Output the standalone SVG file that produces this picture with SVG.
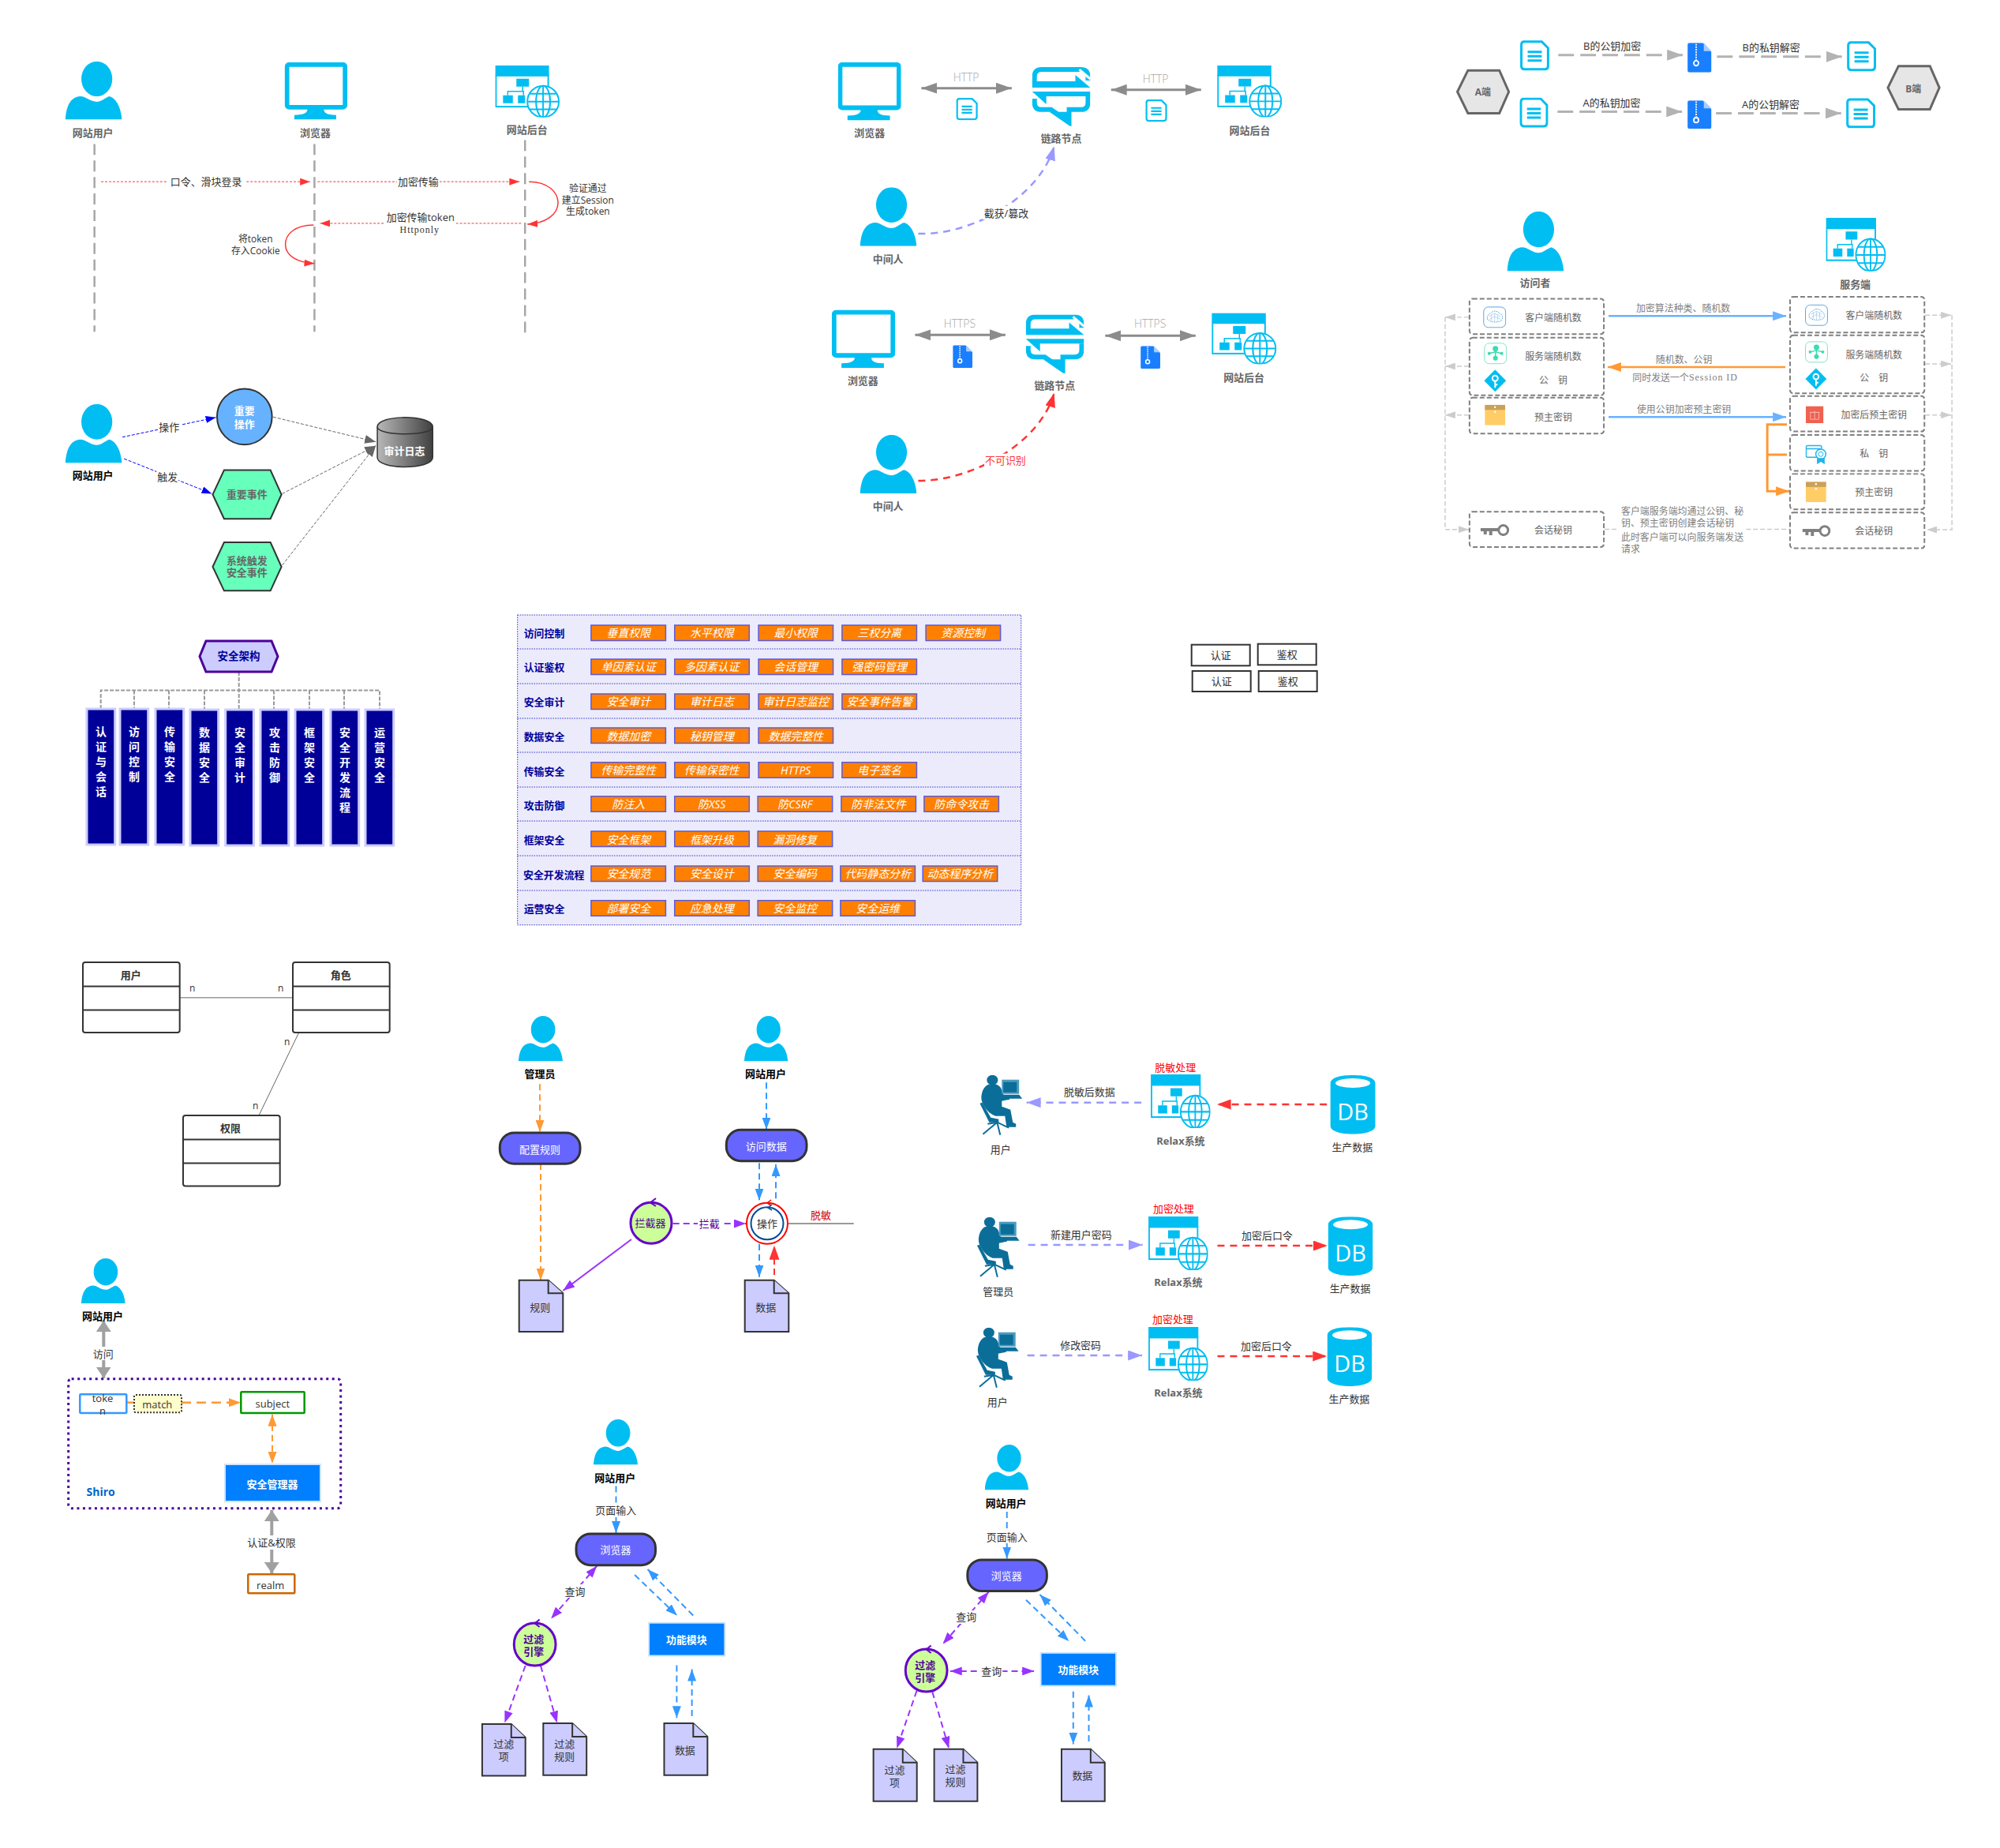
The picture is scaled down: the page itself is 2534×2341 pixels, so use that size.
<svg xmlns="http://www.w3.org/2000/svg" width="2534" height="2341" viewBox="0 0 2534 2341">
<style>
text{font-family:"Open Sans","Noto Sans CJK SC",sans-serif;text-anchor:middle;dominant-baseline:central;font-size:13px;fill:#333}
.b{font-weight:700;fill:#666}
.k{font-weight:700;fill:#000}
.s12{font-size:12px}
.g{font-size:12px;fill:#808080}
.h{font-size:14px;font-weight:300;fill:#a6a6a6}
.w{fill:#fff}
.wb{fill:#fff;font-weight:700}
.red{fill:#f00}
.serif{font-family:"Liberation Serif",serif;letter-spacing:1px}
.bar{font-weight:700;font-size:14px;fill:#fff}
.row{font-weight:700;fill:#009}
.it{font-style:italic;fill:#fff;font-size:14px}
.item{fill:#ff8000;stroke:#5a5ae0;stroke-width:1.5}
.tb{fill:none;stroke:#333;stroke-width:2}
.uml{fill:#fff;stroke:#333;stroke-width:2}
.dbox{fill:#fff;stroke:#808080;stroke-width:2;stroke-dasharray:6 3}
.pill{fill:#66f;stroke:#333;stroke-width:3}
.doc{fill:#ccf;stroke:#333;stroke-width:2}
.fn{fill:#007fff;stroke:#cce5ff;stroke-width:2}
.life{stroke:#a6a6a6;stroke-width:2.5;stroke-dasharray:14 7}
.rd{stroke:#f33;stroke-width:1;stroke-dasharray:3 2;marker-end:url(#mRed)}
.rc{stroke:#f33;stroke-width:1.5;marker-end:url(#mRed)}
.bl0{stroke:#00f;stroke-width:1;stroke-dasharray:4 2;marker-end:url(#mB0)}
.gd{stroke:#666;stroke-width:1;stroke-dasharray:4 2;marker-end:url(#mG6)}
.g2{stroke:#8c8c8c;stroke-width:3;marker-start:url(#mG8);marker-end:url(#mG8)}
.pur{stroke:#99f;stroke-width:2.5;stroke-dasharray:9 7;marker-end:url(#mPu)}
.red2{stroke:#f33;stroke-width:2.5;stroke-dasharray:9 7;marker-end:url(#mR2)}
.gb{stroke:#b3b3b3;stroke-width:3;stroke-dasharray:20 8;marker-end:url(#mGb)}
.blue{stroke:#6ab2ff;stroke-width:2.5;marker-end:url(#mBl)}
.org{stroke:#f93;stroke-width:2.5;marker-end:url(#mOr)}
.lg{stroke:#ccc;stroke-width:1.5;stroke-dasharray:6 3;fill:none}
.lga{stroke:#ccc;stroke-width:1.5;stroke-dasharray:6 3;fill:none;marker-end:url(#mLg)}
.bd{stroke:#39f;stroke-width:2;stroke-dasharray:8 5;marker-end:url(#mB2)}
.od{stroke:#f93;stroke-width:2;stroke-dasharray:8 5;marker-end:url(#mO2)}
.vd{stroke:#93f;stroke-width:2;stroke-dasharray:8 5;marker-end:url(#mV)}
.vdd{stroke:#93f;stroke-width:2;stroke-dasharray:8 5;marker-start:url(#mV);marker-end:url(#mV)}
.ga{stroke:#a0a0a0;stroke-width:4;marker-start:url(#mGa);marker-end:url(#mGa)}
.tree{stroke:#999;stroke-width:2;stroke-dasharray:5 2;fill:none}
</style>
<defs>
<marker id="mRed" viewBox="0 0 10 10" refX="10" refY="5" markerUnits="userSpaceOnUse" markerWidth="13" markerHeight="9" orient="auto-start-reverse" preserveAspectRatio="none"><path d="M0 0L10 5L0 10Z" fill="#f33"/></marker>
<marker id="mB0" viewBox="0 0 10 10" refX="10" refY="5" markerUnits="userSpaceOnUse" markerWidth="13" markerHeight="9" orient="auto-start-reverse" preserveAspectRatio="none"><path d="M0 0L10 5L0 10Z" fill="#00f"/></marker>
<marker id="mG6" viewBox="0 0 10 10" refX="10" refY="5" markerUnits="userSpaceOnUse" markerWidth="14" markerHeight="11" orient="auto-start-reverse" preserveAspectRatio="none"><path d="M0 0L10 5L0 10Z" fill="#666"/></marker>
<marker id="mG8" viewBox="0 0 10 10" refX="10" refY="5" markerUnits="userSpaceOnUse" markerWidth="20" markerHeight="14" orient="auto-start-reverse" preserveAspectRatio="none"><path d="M0 0L10 5L0 10Z" fill="#8c8c8c"/></marker>
<marker id="mPu" viewBox="0 0 10 10" refX="10" refY="5" markerUnits="userSpaceOnUse" markerWidth="18" markerHeight="13" orient="auto-start-reverse" preserveAspectRatio="none"><path d="M0 0L10 5L0 10Z" fill="#99f"/></marker>
<marker id="mR2" viewBox="0 0 10 10" refX="10" refY="5" markerUnits="userSpaceOnUse" markerWidth="18" markerHeight="13" orient="auto-start-reverse" preserveAspectRatio="none"><path d="M0 0L10 5L0 10Z" fill="#f33"/></marker>
<marker id="mGb" viewBox="0 0 10 10" refX="10" refY="5" markerUnits="userSpaceOnUse" markerWidth="20" markerHeight="14" orient="auto-start-reverse" preserveAspectRatio="none"><path d="M0 0L10 5L0 10Z" fill="#b3b3b3"/></marker>
<marker id="mBl" viewBox="0 0 10 10" refX="10" refY="5" markerUnits="userSpaceOnUse" markerWidth="17" markerHeight="12" orient="auto-start-reverse" preserveAspectRatio="none"><path d="M0 0L10 5L0 10Z" fill="#6ab2ff"/></marker>
<marker id="mOr" viewBox="0 0 10 10" refX="10" refY="5" markerUnits="userSpaceOnUse" markerWidth="17" markerHeight="12" orient="auto-start-reverse" preserveAspectRatio="none"><path d="M0 0L10 5L0 10Z" fill="#f93"/></marker>
<marker id="mLg" viewBox="0 0 10 10" refX="10" refY="5" markerUnits="userSpaceOnUse" markerWidth="13" markerHeight="9" orient="auto-start-reverse" preserveAspectRatio="none"><path d="M0 0L10 5L0 10Z" fill="#ccc"/></marker>
<marker id="mB2" viewBox="0 0 10 10" refX="10" refY="5" markerUnits="userSpaceOnUse" markerWidth="15" markerHeight="11" orient="auto-start-reverse" preserveAspectRatio="none"><path d="M0 0L10 5L0 10Z" fill="#39f"/></marker>
<marker id="mO2" viewBox="0 0 10 10" refX="10" refY="5" markerUnits="userSpaceOnUse" markerWidth="15" markerHeight="11" orient="auto-start-reverse" preserveAspectRatio="none"><path d="M0 0L10 5L0 10Z" fill="#f93"/></marker>
<marker id="mV" viewBox="0 0 10 10" refX="10" refY="5" markerUnits="userSpaceOnUse" markerWidth="15" markerHeight="11" orient="auto-start-reverse" preserveAspectRatio="none"><path d="M0 0L10 5L0 10Z" fill="#93f"/></marker>
<marker id="mGa" viewBox="0 0 10 10" refX="10" refY="5" markerUnits="userSpaceOnUse" markerWidth="14" markerHeight="19" orient="auto-start-reverse" preserveAspectRatio="none"><path d="M0 0L10 5L0 10Z" fill="#a0a0a0"/></marker>
<linearGradient id="cyl" x1="0" x2="1" y1="0" y2="0"><stop offset="0" stop-color="#b8b8b8"/><stop offset="1" stop-color="#404040"/></linearGradient>
<symbol id="person" viewBox="0 0 72 75" preserveAspectRatio="none"><ellipse cx="40" cy="22.500" rx="19.700" ry="22.500" fill="#00bef2"/><path d="M0 75C1 60 5 46 19 45C26 45 32 52 40 52C46 52 50 47 56 45C66 48 71 62 72 75Z" fill="#00bef2"/></symbol>
<symbol id="monitor" viewBox="0 0 80 74"><rect x="2.500" y="3" width="75" height="55" rx="3" fill="#fff" stroke="#00bef2" stroke-width="6"/><path d="M29 60H50C50 65 53 68 66 68V74H12V68C25 68 29 65 29 60Z" fill="#00bef2"/></symbol>
<symbol id="website" viewBox="0 0 82 66" preserveAspectRatio="none"><rect x="0" y="0" width="68.500" height="13" fill="#00bef2"/><rect x="1" y="13" width="66.500" height="39.500" fill="#fff" stroke="#00bef2" stroke-width="2"/><path d="M27 17H43V27H27ZM10 38H22.500V48H10ZM29 38H38V48H29Z" fill="#00bef2"/><path d="M35 27V33M16 38V33H36V38" fill="none" stroke="#00bef2" stroke-width="1.500"/><circle cx="61" cy="46" r="20" fill="#fff" stroke="#00bef2" stroke-width="2"/><ellipse cx="61" cy="46" rx="9" ry="20" fill="none" stroke="#00bef2" stroke-width="2"/><path d="M41 46H81M44 36H78M44 56H78M61 26V66" fill="none" stroke="#00bef2" stroke-width="2"/></symbol>
<symbol id="link" viewBox="0 0 74 75"><path d="M3 24V12Q3 3 12 3H62Q71 3 71 12V17" fill="none" stroke="#00bef2" stroke-width="6"/><path d="M0 18H55V10L74 26H0Z" fill="#00bef2"/><path d="M0 31L74 31V37H18V47Z" fill="#00bef2"/><path d="M71 37V45Q71 54 62 54H47V70L24 54H12Q3 54 3 45V40" fill="none" stroke="#00bef2" stroke-width="6"/><path d="M22 57L48 75V57Z" fill="#00bef2"/><path d="M60 3L74 15" stroke="#fff" stroke-width="3"/></symbol>
<symbol id="docic" viewBox="0 0 38 39" preserveAspectRatio="none"><path d="M4 2H28L36 10V33Q36 37 32 37H6Q2 37 2 33V6Q2 2 6 2Z" fill="#fff" stroke="#00bef2" stroke-width="3"/><path d="M10 15H28M10 20.500H28M10 26H28" stroke="#00bef2" stroke-width="3"/></symbol>
<symbol id="zip" viewBox="0 0 25 29" preserveAspectRatio="none"><path d="M2 0H16L25 9V27Q25 29 23 29H2Q0 29 0 27V2Q0 0 2 0Z" fill="#1a7fff"/><path d="M17 0L25 8H17Z" fill="#a6cdff"/><path d="M9 1V17" stroke="#fff" stroke-width="1.500" stroke-dasharray="1.500 1"/><circle cx="9" cy="20" r="2.500" fill="none" stroke="#fff" stroke-width="1.500"/></symbol>
<symbol id="db" viewBox="0 0 57 75" preserveAspectRatio="none"><path d="M0 11C0 3 12 0 28.500 0C45 0 57 3 57 11V64C57 71 45 75 28.500 75C12 75 0 71 0 64Z" fill="#00bef2"/><ellipse cx="28.500" cy="10" rx="22" ry="6" fill="#fff"/></symbol>
<symbol id="worker" viewBox="0 0 54 77"><ellipse cx="16" cy="6.500" rx="7" ry="6.500" fill="#0b6e99"/><path d="M9 13C15 10 24 11 27 17L30 25L38 27L38 31L28 33L28 40L39 44L42 60L46 62V66L34 66L32 52L20 52C12 50 1 38 2 27C3 20 5 16 9 13Z" fill="#0b6e99"/><path d="M0 36L3 35L14 54L24 56V60L12 60Z" fill="#0b6e99"/><path d="M22 60L4 75M22 60L26 76M22 60L37 67M22 60L10 62" stroke="#0b6e99" stroke-width="2" fill="none"/><rect x="28" y="6" width="22" height="18" fill="#4a9bc0"/><rect x="30" y="9" width="17" height="13" fill="#0b6e99"/><path d="M22 25H50L54 30H26Z" fill="#0b6e99"/></symbol>
<symbol id="brain" viewBox="0 0 30 28"><rect x="1" y="1" width="28" height="26" rx="6" fill="#fff" stroke="#5aa5e0"/><path d="M6 17C4 12 9 9 11 8C14 5 19 6 21 9C25 10 26 15 24 18C20 21 10 21 6 17Z" fill="none" stroke="#5aa5e0" stroke-dasharray="1.500 1"/><path d="M8 13L15 9L22 13M8 17L15 13L23 17M15 9V20M11 10V19M19 10V19" fill="none" stroke="#8cc3ea" stroke-width=".6"/></symbol>
<symbol id="tree" viewBox="0 0 30 28"><rect x="1" y="1" width="28" height="26" rx="6" fill="#fff" stroke="#7fe5c5"/><path d="M15 8V20M15 12L7 14M15 12L23 14" stroke="#3ddbb0" stroke-width="1.500"/><circle cx="15" cy="8" r="3.500" fill="#3ddbb0"/><circle cx="7" cy="14" r="2" fill="#3ddbb0"/><circle cx="23" cy="14" r="2" fill="#3ddbb0"/><circle cx="15" cy="20" r="3" fill="#3ddbb0"/></symbol>
<symbol id="diamond" viewBox="0 0 28 28"><path d="M14 0L28 14L14 28L0 14Z" fill="#00bef2"/><circle cx="14" cy="11" r="3.500" fill="none" stroke="#fff" stroke-width="2"/><path d="M14 14V23M14 19H17" stroke="#fff" stroke-width="2"/></symbol>
<symbol id="parcel" viewBox="0 0 26 26"><rect width="26" height="26" fill="#ffcc66"/><rect width="26" height="6.500" fill="#c9a15a"/><circle cx="13" cy="3" r="1.200" fill="#fff"/><circle cx="13" cy="9" r="1.200" fill="#fff"/></symbol>
<symbol id="gift" viewBox="0 0 23 22"><rect width="23" height="22" fill="#f0614f"/><path d="M6 8H17V17H6ZM11.500 6V17M5 8H18" fill="none" stroke="#f9b3aa"/></symbol>
<symbol id="cert" viewBox="0 0 28 26"><path d="M15 17H3Q1 17 1 15V4Q1 2 3 2H19Q21 2 21 4V6" fill="none" stroke="#1fb4ec" stroke-width="1.500"/><path d="M1 6H20" stroke="#1fb4ec" stroke-width="1.500"/><circle cx="20" cy="13" r="6.500" fill="#fff" stroke="#1fb4ec" stroke-width="1.500"/><circle cx="20" cy="13" r="3" fill="none" stroke="#1fb4ec"/><path d="M15 18L15 26L20 23L25 26V18" fill="#1fb4ec"/></symbol>
<symbol id="keyg" viewBox="0 0 37 15"><circle cx="29" cy="7.500" r="6" fill="#fff" stroke="#808080" stroke-width="3"/><path d="M0 5H23V9H15V14H11V9H8V13H4V9H0Z" fill="#808080"/></symbol>
</defs>
<rect width="2534" height="2341" fill="#fff"/>

<g id="connectors" fill="none">
<g id="c-left" transform="translate(.225 .225) scale(.9955)">
<path class="life" d="M120 183V422M400 183V422M668 178V424"/>
<path class="rd" d="M128.500 231H394.600"/><path class="rd" d="M404 231H661"/><path class="rd" d="M663 284H407"/>
<path class="rc" d="M673 231C698 231 710 245 710 258C710 272 695 284 671 285"/>
<path class="rc" d="M399 286C375 286 363 298 363 311C363 325 378 334 400 335"/>
<path class="bl0" d="M155.600 556L274.600 531"/><path class="bl0" d="M157.700 583.500L269.500 628"/>
<path class="gd" d="M347.400 530.400L478 562"/><path class="gd" d="M359 628L478 567"/><path class="gd" d="M359 719L478 567"/>
</g>
<g id="c-mid" transform="translate(4.635 .225) scale(.9955)">
<path class="g2" d="M1168 112H1283"/><path class="g2" d="M1409.500 114H1524"/><path class="g2" d="M1160 426H1275"/><path class="g2" d="M1402 427H1517"/>
<path class="pur" d="M1164 297C1230 300 1318 252 1337 186"/>
<path class="red2" d="M1164 611.600C1230 612 1318 566 1337 500"/>
</g>
<g id="c-right" transform="translate(8.235 .09) scale(.9955)">
<path class="gb" d="M1975 70H2133.400"/><path class="gb" d="M2177 72H2336"/><path class="gb" d="M1974 142H2132.500"/><path class="gb" d="M2175.700 144H2335"/>
<path class="blue" d="M2039 402H2265"/><path class="org" d="M2264 467H2038"/><path class="blue" d="M2039 530.500H2265"/>
<path d="M2266 540H2241V625H2269" stroke="#f93" stroke-width="3" marker-end="url(#mOr)"/><path d="M2241 578.500H2266" stroke="#f93" stroke-width="3"/>
<path class="lga" d="M1861 403.600H1831"/><path class="lga" d="M1861 466H1831"/><path class="lga" d="M1861 528H1831"/>
<path class="lga" d="M1831 403.600V673.600H1861"/>
<path class="lga" d="M2442 401H2475"/><path class="lga" d="M2442 463H2475"/><path class="lga" d="M2442 528H2475"/>
<path class="lga" d="M2476 401V674H2444"/>
<path class="lg" d="M2034 673.500H2270"/>
</g>
<g id="c-arch">
<path class="tree" d="M302.700 851V898M127.700 898V874.400H481V898M170 874.400V898M214 874.400V898M259 874.400V898M347 874.400V898M392 874.400V898M436 874.400V898"/>
</g>
<g id="c-uml" transform="translate(0 -2)">
<path d="M227.700 1265.800H371" stroke="#999" stroke-width="1.500"/><path d="M378.700 1310L328 1415" stroke="#666" stroke-width="1"/>
</g>
<g id="c-flow">
<path class="od" d="M684 1373.300V1434"/><path class="od" d="M685 1474V1621.700"/>
<path class="bd" d="M971 1371.300V1430.700"/><path class="bd" d="M962 1473.300V1520.700"/><path class="bd" d="M983 1518.300V1475"/><path class="bd" d="M962 1576V1617.700"/>
<path d="M981 1615V1577.700" stroke="#f33" stroke-width="2" stroke-dasharray="8 5" marker-end="url(#mR2)"/>
<path class="vd" d="M852.700 1550H945"/><path d="M800 1570L713.300 1635" stroke="#93f" stroke-width="2" marker-end="url(#mV)"/>
<path d="M996.700 1550H1081.700" stroke="#999" stroke-width="2"/>
</g>
<g id="c-mask" transform="translate(4.880 0) scale(.996 1)">
<path class="pur" d="M1447 1396.700H1301"/><path class="red2" d="M1683 1399H1543"/>
<path class="pur" d="M1303 1577H1448.600"/><path class="red2" d="M1543.800 1578H1683.700"/>
<path class="pur" d="M1302 1717H1448"/><path class="red2" d="M1543.800 1718H1683"/>
</g>
<g id="c-shiro">
<path class="ga" d="M131.300 1673V1745.700"/><path class="ga" d="M344.300 1913V1993"/>
<path d="M160 1776.700H170" stroke="#f93" stroke-width="2.500"/><path d="M230 1776.700H305" stroke="#f93" stroke-width="2.500" stroke-dasharray="12 7" marker-end="url(#mO2)"/>
<path class="od" d="M345 1791.700V1854" marker-start="url(#mO2)"/>
</g>
<g id="c-filter" transform="translate(2.360 0) scale(.996 1)">
<path class="bd" d="M781.300 1882.400V1942"/>
<path class="vdd" d="M757 1983.700L698.600 2050.600"/>
<path class="bd" d="M805 1995L859 2046.500"/><path class="bd" d="M879.400 2046.500L821.500 1988"/>
<path class="bd" d="M858.500 2109.400V2176.300"/><path class="bd" d="M877.800 2174V2114.500"/>
<path class="vd" d="M666 2110L639.600 2182.500"/><path class="vd" d="M685.400 2110L706.300 2182.500"/>
<path class="bd" d="M1278.500 1915V1974.500"/>
<path class="vdd" d="M1255.400 2016.600L1197 2082.600"/>
<path class="vdd" d="M1206.300 2116.900H1313"/>
<path class="bd" d="M1302.800 2026.800L1357.400 2079"/><path class="bd" d="M1378.300 2078.800L1320.400 2020"/>
<path class="bd" d="M1362.900 2142.700V2209.600"/><path class="bd" d="M1382.700 2206V2147.500"/>
<path class="vd" d="M1163.900 2141.700L1138.500 2214.700"/><path class="vd" d="M1183.700 2143.400L1204.700 2214.700"/>
</g>
</g>

<g id="s-left" transform="translate(.225 .225) scale(.9955)">
<g id="seq-labels">
<rect x="212" y="224" width="100" height="14" fill="#fff"/><text x="262" y="231">口令、滑块登录</text>
<rect x="505" y="224" width="54" height="14" fill="#fff"/><text x="532" y="231">加密传输</text>
<rect x="490" y="270" width="90" height="30" fill="#fff"/><text x="535" y="275.700">加密传输token</text><text x="534" y="292" class="s12 serif">Httponly</text>
<text x="748" y="239" class="s12">验证通过</text><text x="748" y="253.500" class="s12">建立Session</text><text x="748" y="268" class="s12">生成token</text>
<text x="325" y="303" class="s12">将token</text><text x="325" y="318" class="s12">存入Cookie</text>
<rect x="202" y="536" width="28" height="14" fill="#fff"/><text x="215" y="543">操作</text>
<rect x="199" y="599" width="28" height="14" fill="#fff"/><text x="213" y="606.500">触发</text>
</g>
<g id="n-user1"><use href="#person" x="83" y="78" width="72" height="74"/><text x="118" y="169" class="b">网站用户</text></g>
<g id="n-browser1"><use href="#monitor" x="362" y="79" width="80" height="73"/><text x="401" y="169" class="b">浏览器</text></g>
<g id="n-site1"><use href="#website" x="630" y="83" width="82" height="66"/><text x="670.500" y="165" class="b">网站后台</text></g>
<g id="n-user2"><use href="#person" x="83" y="514" width="72" height="75"/><text x="118" y="605" class="k">网站用户</text></g>
<g id="n-op"><ellipse cx="311" cy="530" rx="35" ry="35.500" fill="#66b2ff" stroke="#333" stroke-width="2"/><text x="311" y="522.500" class="wb">重要</text><text x="311" y="539" class="wb">操作</text></g>
<g id="n-ev1"><path d="M270.500 629L285 598H344L358 629L344 660H285Z" fill="#6fb" stroke="#333" stroke-width="2"/><text x="314" y="629" class="b">重要事件</text></g>
<g id="n-ev2"><path d="M270.500 721L285 690H344L358 721L344 751.500H285Z" fill="#6fb" stroke="#333" stroke-width="2"/><text x="314" y="713" class="b">系统触发</text><text x="314" y="728.500" class="b">安全事件</text></g>
<g id="n-log"><path d="M480 543C480 527 550.500 527 550.500 543V582C550.500 598 480 598 480 582Z" fill="url(#cyl)" stroke="#333" stroke-width="1.500"/><path d="M480 543C480 555 550.500 555 550.500 543" fill="none" stroke="#333" stroke-width="1.500"/><text x="514.600" y="573" class="wb">审计日志</text></g>
</g>

<g id="s-mid" transform="translate(4.635 .225) scale(.9955)">
<g id="n-http">
<use href="#monitor" x="1062" y="79" width="80" height="74"/><text x="1102" y="169" class="b">浏览器</text>
<use href="#link" x="1309" y="85" width="74" height="75.500"/><text x="1346" y="176" class="b">链路节点</text>
<use href="#website" x="1544.500" y="83" width="82.500" height="65.600"/><text x="1586" y="165.600" class="b">网站后台</text>
<text x="1225" y="97.700" class="h">HTTP</text><use href="#docic" x="1212" y="124" width="28" height="29"/>
<text x="1466" y="99.700" class="h">HTTP</text><use href="#docic" x="1453" y="126" width="28" height="29"/>
<use href="#person" x="1090" y="238" width="72" height="75"/><text x="1125.600" y="329" class="b">中间人</text>
<rect x="1246" y="262" width="60" height="17" fill="#fff"/><text x="1276" y="270.600">截获/篡改</text>
</g>
<g id="n-https">
<use href="#monitor" x="1054" y="394" width="80.600" height="74"/><text x="1093.600" y="484" class="b">浏览器</text>
<use href="#link" x="1301" y="400" width="74" height="75"/><text x="1337.700" y="490" class="b">链路节点</text>
<use href="#website" x="1537.500" y="398" width="82.500" height="65"/><text x="1578.500" y="480" class="b">网站后台</text>
<text x="1216.700" y="411" class="h">HTTPS</text><use href="#zip" x="1208" y="439" width="25" height="29"/>
<text x="1459" y="411" class="h">HTTPS</text><use href="#zip" x="1447" y="440" width="25" height="29"/>
<use href="#person" x="1090" y="553" width="72" height="74.500"/><text x="1125.600" y="644" class="b">中间人</text>
<rect x="1248" y="577" width="54" height="16" fill="#fff"/><text x="1275" y="585" style="fill:#f33">不可识别</text>
</g>
</g>

<g id="s-right" transform="translate(8.235 .09) scale(.9955)">
<g id="n-crypto">
<path d="M1846.600 116.700L1860 89.500H1900L1912 116.700L1900 144H1860Z" fill="#e6e6e6" stroke="#666" stroke-width="3"/><text x="1879" y="116.500" class="b s12">A端</text>
<path d="M2394.500 111.500L2408 84H2448L2460 111.500L2448 139H2408Z" fill="#e6e6e6" stroke="#666" stroke-width="3"/><text x="2427" y="112" class="b s12">B端</text>
<use href="#docic" x="1926" y="51" width="38" height="39"/><use href="#docic" x="1925.500" y="123.600" width="37" height="39"/><use href="#docic" x="2342" y="52" width="38" height="39"/><use href="#docic" x="2341" y="124.500" width="38" height="39"/>
<use href="#zip" x="2139.500" y="54.500" width="30.500" height="37.500"/><use href="#zip" x="2139.500" y="127.700" width="30.500" height="36.300"/>
<rect x="2005" y="50" width="78" height="17" fill="#fff"/><text x="2043.600" y="58.600">B的公钥加密</text>
<rect x="2208" y="52" width="78" height="17" fill="#fff"/><text x="2246" y="60.400">B的私钥解密</text>
<rect x="2005" y="122" width="78" height="17" fill="#fff"/><text x="2043" y="131">A的私钥加密</text>
<rect x="2207" y="124" width="78" height="17" fill="#fff"/><text x="2245.400" y="133">A的公钥解密</text>
</g>
<g id="n-tls-client">
<use href="#person" x="1910" y="269" width="72" height="76"/><text x="1945.500" y="360" class="b">访问者</text>
<rect class="dbox" x="1862" y="380" width="171" height="45" rx="4"/><rect class="dbox" x="1862" y="429.600" width="171" height="73.400" rx="4"/><rect class="dbox" x="1862" y="506" width="171" height="45.600" rx="4"/><rect class="dbox" x="1862" y="651" width="171" height="45" rx="4"/>
<use href="#brain" x="1879" y="389.600" width="30" height="28"/><use href="#tree" x="1880" y="435.400" width="30" height="28.600"/><use href="#diamond" x="1880.600" y="470.400" width="28" height="28"/><use href="#parcel" x="1881.400" y="515" width="26.200" height="26"/><use href="#keyg" x="1876" y="667" width="37" height="15"/>
<text x="1968.600" y="403.600" class="s12" style="fill:#666">客户端随机数</text><text x="1968.600" y="453" class="s12" style="fill:#666">服务端随机数</text><text x="1968.600" y="483" class="s12" style="fill:#666">公　钥</text><text x="1968.600" y="530" class="s12" style="fill:#666">预主密钥</text><text x="1968.600" y="673.600" class="s12" style="fill:#666">会话秘钥</text>
</g>
<g id="n-tls-server">
<use href="#website" x="2315.600" y="277" width="76.400" height="68"/><text x="2353" y="362" class="b">服务端</text>
<rect class="dbox" x="2270" y="377.500" width="171" height="45.500" rx="4"/><rect class="dbox" x="2270" y="426.500" width="171" height="74" rx="4"/><rect class="dbox" x="2270" y="504" width="171" height="45" rx="4"/><rect class="dbox" x="2270" y="553.500" width="171" height="45.500" rx="4"/><rect class="dbox" x="2270" y="603" width="171" height="45" rx="4"/><rect class="dbox" x="2270" y="652" width="171" height="45.500" rx="4"/>
<use href="#brain" x="2288.600" y="387" width="30" height="28"/><use href="#tree" x="2288.600" y="433.600" width="30" height="28.400"/><use href="#diamond" x="2289" y="468.600" width="28" height="27"/><use href="#gift" x="2290" y="516.600" width="22.600" height="22"/><use href="#cert" x="2289.500" y="565" width="27.500" height="25.600"/><use href="#parcel" x="2290" y="613" width="26" height="26"/><use href="#keyg" x="2285.600" y="668" width="36.400" height="15"/>
<text x="2376.700" y="401" class="s12" style="fill:#666">客户端随机数</text><text x="2376.700" y="451" class="s12" style="fill:#666">服务端随机数</text><text x="2376.700" y="480" class="s12" style="fill:#666">公　钥</text><text x="2376.700" y="527" class="s12" style="fill:#666">加密后预主密钥</text><text x="2376.700" y="577" class="s12" style="fill:#666">私　钥</text><text x="2376.700" y="626" class="s12" style="fill:#666">预主密钥</text><text x="2376.700" y="675" class="s12" style="fill:#666">会话秘钥</text>
</g>
<g id="tls-labels">
<text x="2134" y="391.500" class="g">加密算法种类、随机数</text><text x="2135" y="456.500" class="g">随机数、公钥</text><text x="2136.500" y="480" class="g">同时发送一个<tspan class="serif">Session ID</tspan></text><text x="2135" y="520" class="g">使用公钥加密预主密钥</text>
<rect x="2052" y="642" width="162" height="64" fill="#fff"/>
<text x="2055" y="650" class="g" style="text-anchor:start">客户端服务端均通过公钥、秘</text><text x="2055" y="665" class="g" style="text-anchor:start">钥、预主密钥创建会话秘钥</text><text x="2055" y="683" class="g" style="text-anchor:start">此时客户端可以向服务端发送</text><text x="2055" y="698" class="g" style="text-anchor:start">请求</text>
</g>
</g>

<g id="n-arch">
<path d="M253 831.500L261 812H344L352 831.500L344 851H261Z" fill="#ccf" stroke="#4c0099" stroke-width="3"/><text x="302.500" y="831" style="font-weight:700;fill:#009;font-size:13.500px">安全架构</text>
</g>
<g id="n-bars">
<g fill="#009" stroke="#ccf" stroke-width="3"><rect x="110" y="898" width="35.700" height="172"/><rect x="152" y="898" width="35.700" height="172"/><rect x="197" y="898" width="35.700" height="172"/><rect x="241" y="899" width="35.700" height="172"/><rect x="285.700" y="899" width="35.700" height="172"/><rect x="330" y="899" width="35.700" height="172"/><rect x="374" y="899" width="35.700" height="172"/><rect x="419" y="899" width="35.700" height="172"/><rect x="463" y="899" width="35.700" height="172"/></g>
<text class="bar" x="128" y="926">认<tspan x="128" dy="19">证</tspan><tspan x="128" dy="19">与</tspan><tspan x="128" dy="19">会</tspan><tspan x="128" dy="19">话</tspan></text>
<text class="bar" x="170" y="926">访<tspan x="170" dy="19">问</tspan><tspan x="170" dy="19">控</tspan><tspan x="170" dy="19">制</tspan></text>
<text class="bar" x="215" y="926">传<tspan x="215" dy="19">输</tspan><tspan x="215" dy="19">安</tspan><tspan x="215" dy="19">全</tspan></text>
<text class="bar" x="259" y="927">数<tspan x="259" dy="19">据</tspan><tspan x="259" dy="19">安</tspan><tspan x="259" dy="19">全</tspan></text>
<text class="bar" x="304" y="927">安<tspan x="304" dy="19">全</tspan><tspan x="304" dy="19">审</tspan><tspan x="304" dy="19">计</tspan></text>
<text class="bar" x="348" y="927">攻<tspan x="348" dy="19">击</tspan><tspan x="348" dy="19">防</tspan><tspan x="348" dy="19">御</tspan></text>
<text class="bar" x="392" y="927">框<tspan x="392" dy="19">架</tspan><tspan x="392" dy="19">安</tspan><tspan x="392" dy="19">全</tspan></text>
<text class="bar" x="437" y="927">安<tspan x="437" dy="19">全</tspan><tspan x="437" dy="19">开</tspan><tspan x="437" dy="19">发</tspan><tspan x="437" dy="19">流</tspan><tspan x="437" dy="19">程</tspan></text>
<text class="bar" x="481" y="927">运<tspan x="481" dy="19">营</tspan><tspan x="481" dy="19">安</tspan><tspan x="481" dy="19">全</tspan></text>
</g>

<g id="s-uml" transform="translate(0 -2)">
<g id="n-uml-user"><rect class="uml" x="105" y="1221" width="122.700" height="89" rx="3"/><path class="tb" d="M105 1251.500H227.700M105 1281.400H227.700"/><text x="165.700" y="1237" style="font-weight:700">用户</text></g>
<g id="n-uml-role"><rect class="uml" x="371" y="1221" width="122.700" height="89" rx="3"/><path class="tb" d="M371 1251.500H493.700M371 1281.400H493.700"/><text x="431.700" y="1237" style="font-weight:700">角色</text></g>
<g id="n-uml-perm"><rect class="uml" x="232" y="1415" width="122.700" height="89.400" rx="3"/><path class="tb" d="M232 1445.500H354.700M232 1475.400H354.700"/><text x="292" y="1431" style="font-weight:700">权限</text></g>
<g id="uml-labels"><text x="243.700" y="1253.400" class="s12">n</text><text x="355.700" y="1253.400" class="s12">n</text><text x="363.700" y="1321.700" class="s12">n</text><text x="323.700" y="1402" class="s12">n</text></g>
</g>

<g id="n-table" transform="translate(3.250 0) scale(.995 1)">
<rect x="655.700" y="779" width="641.300" height="392.700" fill="#ebebfc" stroke="#33c" stroke-dasharray="1.500 1.500"/>
<path d="M655.700 822H1297M655.700 866H1297M655.700 910H1297M655.700 953H1297M655.700 997H1297M655.700 1040H1297M655.700 1084H1297M655.700 1128H1297" stroke="#33c" stroke-dasharray="1.500 1.500" fill="none"/>
<text x="689.700" y="802" class="row">访问控制</text><text x="689.700" y="845.500" class="row">认证鉴权</text><text x="689.700" y="889.500" class="row">安全审计</text><text x="689.700" y="933.500" class="row">数据安全</text><text x="689.700" y="977.500" class="row">传输安全</text><text x="689.700" y="1020.500" class="row">攻击防御</text><text x="689.700" y="1063.500" class="row">框架安全</text><text x="702" y="1107.500" class="row">安全开发流程</text><text x="689.700" y="1150.500" class="row">运营安全</text>
<g id="r1"><rect class="item" x="749.400" y="792" width="95" height="19.500"/><text class="it" x="797" y="801.700">垂直权限</text><rect class="item" x="855.800" y="792" width="95" height="19.500"/><text class="it" x="903" y="801.700">水平权限</text><rect class="item" x="962.600" y="792" width="95" height="19.500"/><text class="it" x="1010" y="801.700">最小权限</text><rect class="item" x="1069" y="792" width="95" height="19.500"/><text class="it" x="1116.500" y="801.700">三权分离</text><rect class="item" x="1175.700" y="792" width="95" height="19.500"/><text class="it" x="1223" y="801.700">资源控制</text></g>
<g id="r2"><rect class="item" x="749.400" y="835" width="95" height="19.500"/><text class="it" x="797" y="845">单因素认证</text><rect class="item" x="855.800" y="835" width="95" height="19.500"/><text class="it" x="903" y="845">多因素认证</text><rect class="item" x="962.600" y="835" width="95" height="19.500"/><text class="it" x="1010" y="845">会话管理</text><rect class="item" x="1069" y="835" width="95" height="19.500"/><text class="it" x="1116.500" y="845">强密码管理</text></g>
<g id="r3"><rect class="item" x="749.400" y="879" width="95" height="19.500"/><text class="it" x="797" y="889">安全审计</text><rect class="item" x="855.800" y="879" width="95" height="19.500"/><text class="it" x="903" y="889">审计日志</text><rect class="item" x="962.600" y="879" width="95" height="19.500"/><text class="it" x="1010" y="889">审计日志监控</text><rect class="item" x="1069" y="879" width="95" height="19.500"/><text class="it" x="1116.500" y="889">安全事件告警</text></g>
<g id="r4"><rect class="item" x="749.400" y="922" width="95" height="19.500"/><text class="it" x="797" y="932">数据加密</text><rect class="item" x="855.800" y="922" width="95" height="19.500"/><text class="it" x="903" y="932">秘钥管理</text><rect class="item" x="962.600" y="922" width="95" height="19.500"/><text class="it" x="1010" y="932">数据完整性</text></g>
<g id="r5"><rect class="item" x="749.400" y="965.700" width="95" height="19.500"/><text class="it" x="797" y="975.500">传输完整性</text><rect class="item" x="855.800" y="965.700" width="95" height="19.500"/><text class="it" x="903" y="975.500">传输保密性</text><rect class="item" x="962.600" y="965.700" width="95" height="19.500"/><text class="it" x="1010" y="975.500">HTTPS</text><rect class="item" x="1069" y="965.700" width="95" height="19.500"/><text class="it" x="1116.500" y="975.500">电子签名</text></g>
<g id="r6"><rect class="item" x="749.400" y="1008.700" width="95" height="19.500"/><text class="it" x="797" y="1018.500">防注入</text><rect class="item" x="855.800" y="1008.700" width="95" height="19.500"/><text class="it" x="903" y="1018.500">防XSS</text><rect class="item" x="961.700" y="1008.700" width="95" height="19.500"/><text class="it" x="1009" y="1018.500">防CSRF</text><rect class="item" x="1068" y="1008.700" width="95" height="19.500"/><text class="it" x="1115.500" y="1018.500">防非法文件</text><rect class="item" x="1173.500" y="1008.700" width="95" height="19.500"/><text class="it" x="1221" y="1018.500">防命令攻击</text></g>
<g id="r7"><rect class="item" x="749.400" y="1053" width="95" height="19.500"/><text class="it" x="797" y="1063">安全框架</text><rect class="item" x="855.800" y="1053" width="95" height="19.500"/><text class="it" x="903" y="1063">框架升级</text><rect class="item" x="961.700" y="1053" width="95" height="19.500"/><text class="it" x="1009" y="1063">漏洞修复</text></g>
<g id="r8"><rect class="item" x="749.400" y="1097" width="95" height="19.500"/><text class="it" x="797" y="1106.500">安全规范</text><rect class="item" x="855.800" y="1097" width="95" height="19.500"/><text class="it" x="903" y="1106.500">安全设计</text><rect class="item" x="961.700" y="1097" width="95" height="19.500"/><text class="it" x="1009" y="1106.500">安全编码</text><rect class="item" x="1067" y="1097" width="95" height="19.500"/><text class="it" x="1114.500" y="1106.500">代码静态分析</text><rect class="item" x="1171.800" y="1097" width="95" height="19.500"/><text class="it" x="1219" y="1106.500">动态程序分析</text></g>
<g id="r9"><rect class="item" x="749.400" y="1140.700" width="95" height="19.500"/><text class="it" x="797" y="1150.500">部署安全</text><rect class="item" x="855.800" y="1140.700" width="95" height="19.500"/><text class="it" x="903" y="1150.500">应急处理</text><rect class="item" x="961.700" y="1140.700" width="95" height="19.500"/><text class="it" x="1009" y="1150.500">安全监控</text><rect class="item" x="1067" y="1140.700" width="95" height="19.500"/><text class="it" x="1114.500" y="1150.500">安全运维</text></g>
</g>

<g id="n-auth">
<rect class="tb" x="1509.700" y="816.700" width="74" height="26.600"/><text x="1546.700" y="830">认证</text>
<rect class="tb" x="1593.700" y="815.700" width="74" height="26.600"/><text x="1630.700" y="829">鉴权</text>
<rect class="tb" x="1510.700" y="850" width="74" height="26"/><text x="1547.700" y="863">认证</text>
<rect class="tb" x="1594.700" y="850" width="74" height="26"/><text x="1631.700" y="863">鉴权</text>
</g>

<g id="n-mask-flow">
<use href="#person" x="657" y="1287" width="56" height="57.300"/><text x="684" y="1360" class="k">管理员</text>
<use href="#person" x="943" y="1287" width="55.300" height="57.300"/><text x="970" y="1360" class="k">网站用户</text>
<rect class="pill" x="633.300" y="1435" width="101.700" height="39.300" rx="18"/><text x="684" y="1455.700" class="w">配置规则</text>
<rect class="pill" x="920.300" y="1431.300" width="101.700" height="39.400" rx="18"/><text x="970.700" y="1451.700" class="w">访问数据</text>
<path class="doc" d="M657.700 1621.700H694.700L713.300 1638.300V1687H657.700Z"/><path class="doc" d="M694.700 1621.700V1638.300H713.300"/><text x="684.300" y="1656">规则</text>
<path class="doc" d="M943.700 1621.700H980.700L999.300 1638.300V1687H943.700Z"/><path class="doc" d="M980.700 1621.700V1638.300H999.300"/><text x="970.300" y="1656">数据</text>
<circle cx="825" cy="1549.300" r="26" fill="#cf9" stroke="#60c" stroke-width="3"/><path d="M831 1518L824 1523.500L831 1528" fill="none" stroke="#60c" stroke-width="2"/><text x="824" y="1549.300" style="fill:#4c0099">拦截器</text>
<circle cx="972" cy="1549.700" r="26" fill="#fff" stroke="#f00" stroke-width="2"/><circle cx="972" cy="1549.700" r="20.500" fill="#fff" stroke="#004c99" stroke-width="2"/><path d="M977 1520L972 1524L977 1527" fill="none" stroke="#f00" stroke-width="1.500"/><path d="M978 1526L973 1530L978 1533" fill="none" stroke="#004c99" stroke-width="1.500"/><text x="972" y="1549.700">操作</text>
<rect x="884" y="1542" width="30" height="16" fill="#fff"/><text x="898.700" y="1550" style="fill:#4c0099">拦截</text>
<text x="1040" y="1539.300" style="fill:#c00">脱敏</text>
</g>

<g id="s-mask" transform="translate(4.880 0) scale(.996 1)">
<use href="#worker" x="1241.500" y="1361.700" width="54" height="77"/><text x="1268" y="1455.700">用户</text>
<use href="#website" x="1459" y="1361" width="76" height="68"/><text x="1490.300" y="1352.300" class="red">脱敏处理</text><text x="1497" y="1445.300" class="b">Relax系统</text>
<use href="#db" x="1687.300" y="1362" width="57.500" height="74.700"/><text x="1716" y="1407" style="font-size:29px;fill:#fff">DB</text><text x="1715.300" y="1452.700">生产数据</text>
<text x="1381" y="1383.300">脱敏后数据</text>
<use href="#worker" x="1238" y="1541.700" width="54" height="77"/><text x="1264.900" y="1635.700">管理员</text>
<use href="#website" x="1456" y="1541" width="76" height="68"/><text x="1488" y="1531.300" class="red">加密处理</text><text x="1494" y="1624.300" class="b">Relax系统</text>
<use href="#db" x="1684.500" y="1541.300" width="57" height="74.700"/><text x="1713" y="1586" style="font-size:29px;fill:#fff">DB</text><text x="1712.500" y="1631.700">生产数据</text>
<text x="1370.400" y="1563.700">新建用户密码</text><text x="1607" y="1565.300">加密后口令</text>
<use href="#worker" x="1237" y="1681.700" width="54" height="77"/><text x="1264" y="1775.700">用户</text>
<use href="#website" x="1456" y="1681" width="76" height="68"/><text x="1487" y="1671.300" class="red">加密处理</text><text x="1494" y="1764.300" class="b">Relax系统</text>
<use href="#db" x="1683.400" y="1681.300" width="57" height="74.700"/><text x="1712" y="1726" style="font-size:29px;fill:#fff">DB</text><text x="1711.400" y="1771.700">生产数据</text>
<text x="1369.700" y="1703.700">修改密码</text><text x="1606" y="1705.300">加密后口令</text>
</g>

<g id="n-shiro">
<use href="#person" x="103" y="1594" width="55.700" height="57.300"/><text x="130" y="1666.700" class="k">网站用户</text>
<rect x="116" y="1706" width="30" height="17" fill="#fff"/><text x="130.700" y="1714.700">访问</text>
<rect x="86.700" y="1746.700" width="345" height="164" rx="4" fill="none" stroke="#4c0099" stroke-width="3" stroke-dasharray="3 4.500"/>
<rect x="101.300" y="1766.300" width="59" height="23.700" rx="1" fill="#fff" stroke="#39f" stroke-width="2.500"/><text x="130" y="1770.700">toke</text><text x="130" y="1787">n</text>
<rect x="170" y="1767" width="60" height="22.300" rx="2" fill="#ffc" stroke="#333" stroke-width="2" stroke-dasharray="2 2"/><text x="199.300" y="1778.700">match</text>
<rect x="305.300" y="1763.300" width="80.400" height="26.700" rx="1" fill="#fff" stroke="#090" stroke-width="2.500"/><text x="345.300" y="1777.700">subject</text>
<rect class="fn" x="285" y="1855" width="121" height="47"/><text x="345" y="1879.700" class="wb">安全管理器</text>
<text x="127.700" y="1889.700" style="font-weight:700;fill:#06c;font-size:14px">Shiro</text>
<rect x="312" y="1945" width="64" height="18" fill="#fff"/><text x="344" y="1954.300">认证&amp;权限</text>
<rect x="314.300" y="1994.300" width="59" height="24" rx="1" fill="#fff" stroke="#c60" stroke-width="2.500"/><text x="342.700" y="2007.700">realm</text>
</g>

<g id="s-filter" transform="translate(2.360 0) scale(.996 1)">
<g id="n-filter1">
<use href="#person" x="752.600" y="1798" width="56.300" height="57.600"/><text x="780" y="1872" class="k">网站用户</text>
<rect x="752" y="1905" width="58" height="17" fill="#fff"/><text x="781" y="1913.300">页面输入</text>
<rect class="pill" x="730.600" y="1943" width="100.900" height="39.700" rx="18"/><text x="780.700" y="1963.300" class="w">浏览器</text>
<rect x="715" y="2007" width="30" height="17" fill="#fff"/><text x="729" y="2015.600">查询</text>
<ellipse cx="678" cy="2083" rx="26.500" ry="27" fill="#cf9" stroke="#60c" stroke-width="3"/><path d="M684 2051.500L678 2056.500L684 2061" fill="none" stroke="#60c" stroke-width="2"/><text x="676.500" y="2076.400" style="font-weight:700;fill:#4c0099">过滤</text><text x="676.500" y="2092" style="font-weight:700;fill:#4c0099">引擎</text>
<rect class="fn" x="823" y="2055.700" width="96.700" height="41.800"/><text x="871" y="2077" class="wb">功能模块</text>
<path class="doc" d="M611 2184H648L666 2201V2249.400H611Z"/><path class="doc" d="M648 2184V2201H666"/><text x="638.500" y="2208.600">过滤</text><text x="638.500" y="2224.600">项</text>
<path class="doc" d="M688.700 2183H725.700L743.800 2200V2248.700H688.700Z"/><path class="doc" d="M725.700 2183V2200H743.800"/><text x="715.700" y="2208.600">过滤</text><text x="715.700" y="2225">规则</text>
<path class="doc" d="M842.500 2183H879.500L897.600 2200V2248.700H842.500Z"/><path class="doc" d="M879.500 2183V2200H897.600"/><text x="869" y="2216.800">数据</text>
</g>
<g id="n-filter2">
<use href="#person" x="1250.400" y="1830" width="55.600" height="57.600"/><text x="1277.400" y="1904" class="k">网站用户</text>
<rect x="1249" y="1938" width="58" height="17" fill="#fff"/><text x="1278.500" y="1946.600">页面输入</text>
<rect class="pill" x="1228.400" y="1975.900" width="100.900" height="39.700" rx="18"/><text x="1278" y="1995.600" class="w">浏览器</text>
<rect x="1212" y="2040" width="30" height="17" fill="#fff"/><text x="1226.700" y="2048">查询</text>
<ellipse cx="1176" cy="2116" rx="26.500" ry="27" fill="#cf9" stroke="#60c" stroke-width="3"/><path d="M1182 2084.500L1176 2089.500L1182 2094" fill="none" stroke="#60c" stroke-width="2"/><text x="1174.500" y="2109" style="font-weight:700;fill:#4c0099">过滤</text><text x="1174.500" y="2125" style="font-weight:700;fill:#4c0099">引擎</text>
<rect class="fn" x="1321.500" y="2093.800" width="95.900" height="41.800"/><text x="1369.500" y="2115" class="wb">功能模块</text>
<rect x="1245" y="2108" width="28" height="17" fill="#fff"/><text x="1259" y="2116.900">查询</text>
<path class="doc" d="M1108.700 2215.800H1146L1164 2232.800V2281.700H1108.700Z"/><path class="doc" d="M1146 2215.800V2232.800H1164"/><text x="1135.700" y="2242">过滤</text><text x="1135.700" y="2258">项</text>
<path class="doc" d="M1186 2215.800H1223L1241 2232.800V2281.700H1186Z"/><path class="doc" d="M1223 2215.800V2232.800H1241"/><text x="1213" y="2241">过滤</text><text x="1213" y="2257">规则</text>
<path class="doc" d="M1348 2215.800H1385L1403 2232.800V2281.700H1348Z"/><path class="doc" d="M1385 2215.800V2232.800H1403"/><text x="1374.500" y="2249">数据</text>
</g>
</g>
</svg>
